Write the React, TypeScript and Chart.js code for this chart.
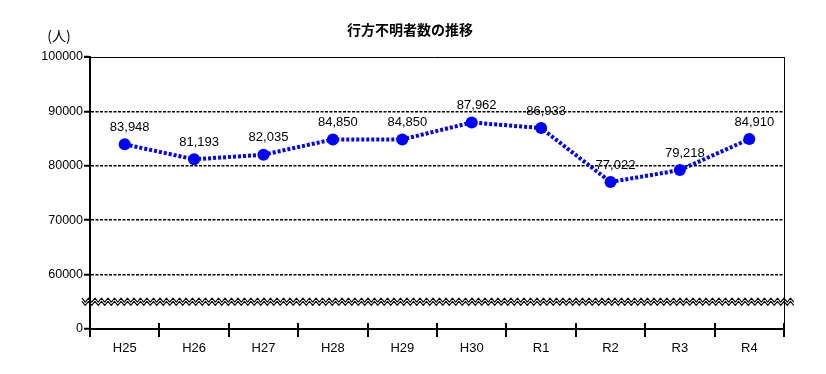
import React, { useEffect, useRef } from "react";
import { Chart, registerables } from "chart.js";

Chart.register(...registerables);

const categories = ["H25", "H26", "H27", "H28", "H29", "H30", "R1", "R2", "R3", "R4"];
const missingPersons = [83948, 81193, 82035, 84850, 84850, 87962, 86933, 77022, 79218, 84910];
const yTickValues = [50000, 60000, 70000, 80000, 90000, 100000];
const yTickLabels = ["0", "60000", "70000", "80000", "90000", "100000"];
const chartTitle = "行方不明者数の推移";
const unitLabel = "(人)";

const LATIN = '"Liberation Sans", Arial, sans-serif';
const CJK = '"Noto Sans CJK JP", "Noto Sans", sans-serif';

const decorPlugin = {
  id: "decor",
  afterDraw(chart: any) {
    const { ctx, chartArea, scales } = chart;
    const { left, right, top, bottom } = chartArea;
    const xs = scales.x;
    const ys = scales.y;
    ctx.save();
    ctx.setLineDash([]);
    // axis break zigzag
    const yMid = (ys.getPixelForValue(yTickValues[0]) + ys.getPixelForValue(yTickValues[1])) / 2;
    const x0 = left - 8;
    const x1 = right + 11;
    const period = 6.5;
    const amp = 2;
    const sep = 3.2;
    const pts: number[] = [];
    for (let x = x0; x <= x1 + 0.01; x += period / 2) pts.push(x);
    const yAt = (k: number, base: number) => base + (k % 2 === 0 ? -amp : amp);
    const upper = yMid - sep / 2;
    const lower = yMid + sep / 2;
    ctx.fillStyle = "#fff";
    ctx.beginPath();
    pts.forEach((x, k) => (k === 0 ? ctx.moveTo(x, yAt(k, upper)) : ctx.lineTo(x, yAt(k, upper))));
    for (let k = pts.length - 1; k >= 0; k--) ctx.lineTo(pts[k], yAt(k, lower));
    ctx.closePath();
    ctx.fill();
    ctx.strokeStyle = "#000";
    ctx.lineWidth = 1.1;
    ctx.lineJoin = "round";
    [upper, lower].forEach((base) => {
      ctx.beginPath();
      pts.forEach((x, k) => (k === 0 ? ctx.moveTo(x, yAt(k, base)) : ctx.lineTo(x, yAt(k, base))));
      ctx.stroke();
    });
    // top solid line, right border, left axis (over the break)
    ctx.strokeStyle = "#000";
    ctx.lineWidth = 1;
    ctx.beginPath();
    ctx.moveTo(left - 6, Math.round(top) + 0.5);
    ctx.lineTo(right + 0.5, Math.round(top) + 0.5);
    ctx.moveTo(Math.round(right) + 0.5, top);
    ctx.lineTo(Math.round(right) + 0.5, bottom);
    ctx.stroke();
    ctx.lineWidth = 2;
    ctx.beginPath();
    ctx.moveTo(Math.round(left), yMid - 8);
    ctx.lineTo(Math.round(left), yMid + 8);
    ctx.stroke();
    // upward parts of category ticks
    const step = xs.getPixelForValue(1) - xs.getPixelForValue(0);
    ctx.lineWidth = 2;
    ctx.beginPath();
    for (let i = 0; i <= categories.length; i++) {
      const bx = Math.round(xs.getPixelForValue(i) - step / 2);
      ctx.moveTo(bx, bottom - 6);
      ctx.lineTo(bx, bottom);
    }
    ctx.stroke();
    // title and unit
    ctx.fillStyle = "#000";
    ctx.textAlign = "center";
    ctx.textBaseline = "middle";
    ctx.font = `bold 14px ${CJK}`;
    ctx.fillText(chartTitle, 410, 30);
    ctx.font = `14px ${CJK}`;
    ctx.fillText(unitLabel, 59, 36);
    ctx.restore();
  },
  afterDatasetsDraw(chart: any) {
    const { ctx } = chart;
    const meta = chart.getDatasetMeta(0);
    ctx.save();
    ctx.fillStyle = "#000";
    ctx.font = `13px ${LATIN}`;
    ctx.textAlign = "center";
    ctx.textBaseline = "middle";
    meta.data.forEach((pt: any, i: number) => {
      ctx.fillText(missingPersons[i].toLocaleString("en-US"), pt.x + 5, pt.y - 17);
    });
    ctx.restore();
  },
};

export default function App() {
  const canvasRef = useRef<HTMLCanvasElement | null>(null);

  useEffect(() => {
    if (!canvasRef.current) return;
    const chart = new Chart(canvasRef.current, {
      type: "line",
      data: {
        labels: categories,
        datasets: [
          {
            data: missingPersons,
            borderColor: "#0000FF",
            backgroundColor: "#0000FF",
            borderWidth: 4,
            borderDash: [3, 2],
            pointRadius: 6,
            pointHoverRadius: 6,
            pointBackgroundColor: "#0000FF",
            pointBorderWidth: 0,
            tension: 0,
            fill: false,
          },
        ],
      },
      options: {
        animation: false,
        responsive: false,
        maintainAspectRatio: false,
        events: [],
        layout: { padding: { top: 57, right: 42, left: 0, bottom: 0 } },
        plugins: {
          legend: { display: false },
          title: { display: false },
          tooltip: { enabled: false },
        },
        scales: {
          x: {
            offset: true,
            afterFit: (scale: any) => {
              scale.height = 45;
            },
            grid: {
              offset: true,
              drawOnChartArea: false,
              drawTicks: true,
              tickLength: 8,
              lineWidth: 2,
              color: "#000",
            },
            border: { display: true, color: "#000", width: 2 },
            ticks: {
              color: "#000",
              font: { family: LATIN, size: 13 },
              padding: 4,
              maxRotation: 0,
            },
          },
          y: {
            min: yTickValues[0],
            max: yTickValues[yTickValues.length - 1],
            afterFit: (scale: any) => {
              scale.width = 90;
            },
            afterBuildTicks: (scale: any) => {
              scale.ticks = yTickValues.map((v) => ({ value: v }));
            },
            grid: {
              color: (c: any) =>
                c.tick && (c.tick.value === yTickValues[0] || c.tick.value === yTickValues[yTickValues.length - 1])
                  ? "rgba(0,0,0,0)"
                  : "#000",
              lineWidth: 1.5,
              tickLength: 6,
              tickWidth: 2,
              tickColor: "#000",
              tickBorderDash: [],
            },
            border: { display: true, color: "#000", width: 2, dash: [3, 1.5] },
            ticks: {
              color: "#000",
              font: { family: LATIN, size: 12.5 },
              padding: 1,
              callback: (value: any) => {
                const idx = yTickValues.indexOf(Number(value));
                return idx >= 0 ? yTickLabels[idx] : "";
              },
            },
          },
        },
      },
      plugins: [decorPlugin],
    });
    return () => chart.destroy();
  }, []);

  return (
    <div style={{ position: "fixed", left: 0, top: 0, width: 826, height: 374, background: "#fff" }}>
      <canvas ref={canvasRef} width={826} height={374} style={{ width: 826, height: 374 }} />
    </div>
  );
}
